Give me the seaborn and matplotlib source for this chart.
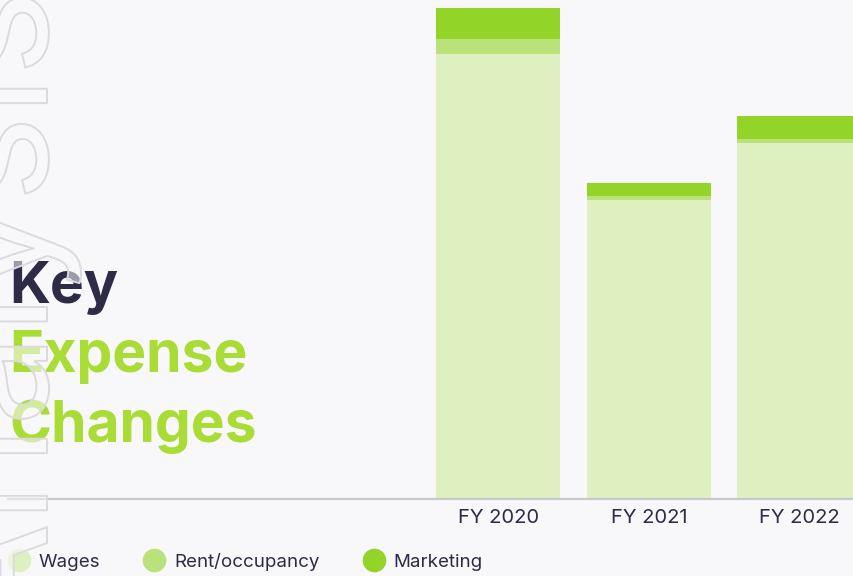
import matplotlib
matplotlib.use("Agg")
import matplotlib.pyplot as plt
import matplotlib.patheffects as pe
from matplotlib.lines import Line2D
import seaborn as sns
import pandas as pd

years = ["FY 2020", "FY 2021", "FY 2022"]
wages = [445, 299, 356]
rent = [15, 4, 4]
marketing = [31, 13, 23]

bg = "#f8f8fb"
navy = "#2e2b47"
lime = "#a9dc34"
colors = {"Wages": "#dff0c0", "Rent/occupancy": "#b9e27a", "Marketing": "#92d428"}

df = pd.DataFrame({"year": years, "Wages": wages, "Rent/occupancy": rent, "Marketing": marketing})
df["lvl1"] = df["Wages"]
df["lvl2"] = df["Wages"] + df["Rent/occupancy"]
df["lvl3"] = df["lvl2"] + df["Marketing"]

sns.set_theme(style="white")
plt.rcParams["font.family"] = ["Inter", "DejaVu Sans"]

fig = plt.figure(figsize=(8.54, 5.76), dpi=100, facecolor=bg)
ax = fig.add_axes([8 / 854, 77 / 576, 846 / 854, 499 / 576])
ax.set_facecolor(bg)

# stacked bars drawn as overlapping cumulative totals
for col, name in [("lvl3", "Marketing"), ("lvl2", "Rent/occupancy"), ("lvl1", "Wages")]:
    sns.barplot(data=df, x="year", y=col, order=years, color=colors[name],
                saturation=1, width=0.824, linewidth=0, ax=ax)

ax.set_xlim(-3.258, 2.363)
ax.set_ylim(0, 499)
ax.set_xlabel("")
ax.set_ylabel("")
ax.set_yticks([])
ax.tick_params(axis="x", length=0, pad=7, labelsize=14.5, labelcolor=navy)
for s in ["top", "right", "left"]:
    ax.spines[s].set_visible(False)
ax.spines["bottom"].set_color("#c8c8cd")
ax.spines["bottom"].set_linewidth(1.6)

# title block
fig.text(9 / 854, 1 - 303 / 576, "Key", color=navy, fontsize=41, fontweight="bold", va="baseline")
fig.text(9 / 854, 1 - 372 / 576, "Expense", color=lime, fontsize=41, fontweight="bold", va="baseline")
fig.text(9 / 854, 1 - 442 / 576, "Changes", color=lime, fontsize=41, fontweight="bold", va="baseline")

# outlined watermark on the left edge
fig.text(47 / 854, -60 / 576, "Analysis", rotation=90, rotation_mode="anchor",
         ha="left", va="baseline", fontsize=118, color=(0.973, 0.973, 0.984, 0.55),
         path_effects=[pe.Stroke(linewidth=1.4, foreground="#dadadf")], zorder=10)

handles = [Line2D([], [], marker="o", ls="", markersize=16, color=colors[n]) for n in colors]
fig.legend(handles, list(colors), loc="center left", bbox_to_anchor=(0 / 854, 14 / 576),
           ncol=3, frameon=False, fontsize=13.5, labelcolor=navy, handletextpad=0.45,
           columnspacing=2.3, handlelength=1.2, borderaxespad=0)

fig.savefig("out.png", dpi=100, facecolor=bg)
